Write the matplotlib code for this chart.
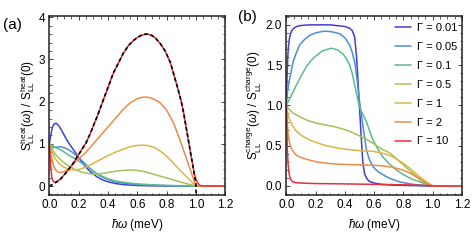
import matplotlib
matplotlib.use("Agg")
import matplotlib.pyplot as plt
from matplotlib.ticker import MultipleLocator, FormatStrFormatter

plt.rcParams['font.family'] = ['Liberation Sans', 'DejaVu Sans']
plt.rcParams['mathtext.fontset'] = 'custom'
plt.rcParams['mathtext.rm'] = 'Liberation Sans'
plt.rcParams['mathtext.it'] = 'Liberation Sans:italic'
plt.rcParams['mathtext.bf'] = 'Liberation Sans:bold'

gamma_labels = ["Γ = 0.01", "Γ = 0.05", "Γ = 0.1", "Γ = 0.5", "Γ = 1", "Γ = 2", "Γ = 10"]
colors = ["#4040d2", "#4a8fd4", "#5db98f", "#a0c45a", "#dcb548", "#f08a48", "#e8303a"]

# ---------------- panel (a): heat noise ----------------
heat_blue_x = [0, 0.01, 0.02, 0.03, 0.046, 0.065, 0.087, 0.11, 0.13, 0.15, 0.167, 0.19, 0.212, 0.24, 0.28, 0.32, 0.36, 0.4, 0.45, 0.5, 0.6, 0.7, 0.8, 1.0, 1.2]
heat_blue_y = [1.0, 1.2, 1.38, 1.46, 1.49, 1.43, 1.3, 1.15, 1.03, 0.93, 0.85, 0.73, 0.62, 0.48, 0.34, 0.23, 0.15, 0.1, 0.06, 0.035, 0.012, 0.004, 0.001, 0, 0]

heat_lblue_x = [0, 0.01, 0.025, 0.047, 0.07, 0.092, 0.115, 0.137, 0.16, 0.182, 0.205, 0.228, 0.26, 0.3, 0.35, 0.4, 0.45, 0.5, 0.6, 0.7, 0.8, 0.9, 1.0, 1.2]
heat_lblue_y = [1.0, 0.94, 0.91, 0.92, 0.93, 0.92, 0.89, 0.85, 0.79, 0.73, 0.66, 0.58, 0.47, 0.35, 0.23, 0.15, 0.1, 0.07, 0.035, 0.018, 0.008, 0.003, 0, 0]

heat_teal_x = [0, 0.02, 0.04, 0.075, 0.1, 0.137, 0.17, 0.21, 0.25, 0.3, 0.35, 0.4, 0.45, 0.5, 0.6, 0.7, 0.8, 0.9, 1.0, 1.2]
heat_teal_y = [1.0, 0.96, 0.92, 0.86, 0.81, 0.72, 0.66, 0.57, 0.47, 0.35, 0.25, 0.17, 0.12, 0.09, 0.05, 0.03, 0.015, 0.006, 0, 0]

heat_green_x = [0, 0.02, 0.047, 0.08, 0.12, 0.16, 0.21, 0.26, 0.3, 0.35, 0.4, 0.45, 0.5, 0.55, 0.6, 0.65, 0.71, 0.78, 0.85, 0.92, 1.0, 1.2]
heat_green_y = [1.0, 0.86, 0.73, 0.61, 0.5, 0.42, 0.34, 0.3, 0.28, 0.29, 0.32, 0.35, 0.37, 0.38, 0.37, 0.34, 0.28, 0.21, 0.14, 0.07, 0.0, 0]

heat_yellow_x = [0, 0.01, 0.02, 0.04, 0.07, 0.1, 0.137, 0.18, 0.22, 0.25, 0.3, 0.35, 0.4, 0.45, 0.5, 0.55, 0.6, 0.63, 0.67, 0.72, 0.78, 0.83, 0.89, 0.95, 1.0, 1.2]
heat_yellow_y = [1.0, 0.9, 0.8, 0.65, 0.52, 0.45, 0.39, 0.38, 0.41, 0.45, 0.54, 0.63, 0.72, 0.8, 0.87, 0.93, 0.96, 0.97, 0.96, 0.91, 0.77, 0.6, 0.38, 0.17, 0.0, 0]

heat_orange_x = [0, 0.01, 0.02, 0.03, 0.045, 0.06, 0.075, 0.1, 0.121, 0.15, 0.182, 0.215, 0.25, 0.3, 0.35, 0.4, 0.45, 0.5, 0.55, 0.6, 0.63, 0.66, 0.7, 0.75, 0.8, 0.85, 0.9, 0.95, 0.98, 1.0, 1.2]
heat_orange_y = [1.0, 0.78, 0.6, 0.47, 0.37, 0.33, 0.32, 0.34, 0.38, 0.46, 0.58, 0.69, 0.8, 1.0, 1.2, 1.4, 1.6, 1.8, 1.97, 2.07, 2.1, 2.11, 2.08, 1.99, 1.8, 1.47, 1.0, 0.5, 0.2, 0.0, 0]

heat_red_x = [0, 0.005, 0.01, 0.015, 0.02, 0.03, 0.04, 0.05, 0.075, 0.12, 0.167, 0.21, 0.25, 0.28, 0.33, 0.38, 0.437, 0.505, 0.54, 0.574, 0.6, 0.625, 0.65, 0.67, 0.695, 0.72, 0.756, 0.79, 0.824, 0.87, 0.9, 0.915, 0.94, 0.97, 0.99, 1.0, 1.01, 1.02, 1.03, 1.05, 1.2]
heat_red_y = [1.0, 0.72, 0.45, 0.27, 0.16, 0.1, 0.09, 0.1, 0.16, 0.34, 0.56, 0.8, 1.02, 1.25, 1.68, 2.15, 2.68, 3.15, 3.33, 3.45, 3.52, 3.57, 3.595, 3.6, 3.575, 3.52, 3.38, 3.2, 2.94, 2.39, 2.0, 1.75, 1.25, 0.65, 0.28, 0.16, 0.08, 0.035, 0.012, 0.002, 0]

heat_black_x = [0, 0.03, 0.075, 0.12, 0.167, 0.21, 0.25, 0.28, 0.33, 0.38, 0.437, 0.505, 0.54, 0.574, 0.6, 0.625, 0.65, 0.67, 0.695, 0.72, 0.756, 0.79, 0.824, 0.87, 0.9, 0.915, 0.94, 0.97, 0.99, 1.0, 1.0]
heat_black_y = [0, 0.05, 0.16, 0.34, 0.56, 0.8, 1.02, 1.25, 1.68, 2.15, 2.68, 3.15, 3.33, 3.45, 3.52, 3.57, 3.595, 3.6, 3.575, 3.52, 3.38, 3.2, 2.94, 2.39, 2.0, 1.75, 1.25, 0.65, 0.25, 0.05, -0.3]

# ---------------- panel (b): charge noise ----------------
ch_blue_x = [0, 0.005, 0.01, 0.015, 0.023, 0.035, 0.046, 0.07, 0.091, 0.15, 0.2, 0.25, 0.3, 0.35, 0.4, 0.43, 0.45, 0.467, 0.48, 0.49, 0.497, 0.505, 0.512, 0.518, 0.524, 0.535, 0.547, 0.565, 0.592, 0.65, 0.73, 0.85, 1.0, 1.2]
ch_blue_y = [1.0, 1.35, 1.6, 1.74, 1.85, 1.92, 1.95, 1.98, 1.99, 2.0, 2.0, 2.0, 2.0, 1.99, 1.98, 1.96, 1.93, 1.85, 1.6, 1.3, 1.05, 0.82, 0.6, 0.42, 0.27, 0.15, 0.1, 0.06, 0.04, 0.02, 0.01, 0.005, 0, 0]

ch_lblue_x = [0, 0.01, 0.023, 0.046, 0.07, 0.091, 0.125, 0.16, 0.2, 0.25, 0.285, 0.32, 0.364, 0.4, 0.433, 0.45, 0.467, 0.485, 0.497, 0.505, 0.515, 0.524, 0.535, 0.547, 0.565, 0.592, 0.625, 0.66, 0.7, 0.774, 0.865, 1.0, 1.2]
ch_lblue_y = [1.0, 1.2, 1.33, 1.54, 1.66, 1.75, 1.82, 1.87, 1.9, 1.92, 1.92, 1.91, 1.89, 1.84, 1.75, 1.66, 1.54, 1.3, 1.1, 0.98, 0.86, 0.74, 0.6, 0.45, 0.34, 0.24, 0.18, 0.14, 0.1, 0.05, 0.02, 0, 0]

ch_teal_x = [0, 0.023, 0.068, 0.1, 0.137, 0.17, 0.205, 0.25, 0.307, 0.35, 0.387, 0.41, 0.433, 0.45, 0.467, 0.485, 0.5, 0.52, 0.547, 0.57, 0.592, 0.625, 0.66, 0.7, 0.751, 0.8, 0.865, 0.93, 1.0, 1.2]
ch_teal_y = [1.0, 1.08, 1.25, 1.36, 1.48, 1.56, 1.62, 1.68, 1.71, 1.69, 1.64, 1.58, 1.5, 1.4, 1.25, 1.1, 0.98, 0.9, 0.8, 0.68, 0.57, 0.46, 0.36, 0.28, 0.2, 0.14, 0.08, 0.04, 0, 0]

ch_green_x = [0, 0.02, 0.05, 0.091, 0.15, 0.205, 0.26, 0.319, 0.38, 0.433, 0.49, 0.547, 0.6, 0.66, 0.708, 0.75, 0.8, 0.85, 0.89, 0.94, 1.0, 1.2]
ch_green_y = [1.0, 0.95, 0.9, 0.86, 0.81, 0.78, 0.76, 0.74, 0.71, 0.68, 0.63, 0.58, 0.52, 0.45, 0.41, 0.34, 0.26, 0.18, 0.12, 0.06, 0, 0]

ch_yellow_x = [0, 0.01, 0.023, 0.045, 0.068, 0.1, 0.16, 0.22, 0.273, 0.35, 0.433, 0.5, 0.592, 0.65, 0.706, 0.75, 0.8, 0.85, 0.9, 0.95, 1.0, 1.2]
ch_yellow_y = [1.0, 0.9, 0.82, 0.74, 0.68, 0.63, 0.57, 0.53, 0.5, 0.47, 0.45, 0.44, 0.43, 0.41, 0.38, 0.34, 0.28, 0.21, 0.13, 0.06, 0, 0]

ch_orange_x = [0, 0.005, 0.012, 0.02, 0.034, 0.05, 0.07, 0.091, 0.14, 0.205, 0.28, 0.364, 0.45, 0.547, 0.62, 0.68, 0.73, 0.774, 0.82, 0.865, 0.913, 0.96, 1.0, 1.2]
ch_orange_y = [1.0, 0.85, 0.65, 0.55, 0.47, 0.42, 0.38, 0.36, 0.33, 0.3, 0.28, 0.27, 0.265, 0.26, 0.255, 0.245, 0.23, 0.21, 0.18, 0.14, 0.08, 0.03, 0, 0]

ch_red_x = [0, 0.003, 0.007, 0.012, 0.017, 0.023, 0.03, 0.046, 0.07, 0.114, 0.2, 0.3, 0.433, 0.6, 0.8, 0.9, 0.97, 1.0, 1.2]
ch_red_y = [1.0, 0.8, 0.45, 0.28, 0.18, 0.12, 0.08, 0.05, 0.04, 0.035, 0.03, 0.028, 0.025, 0.02, 0.015, 0.01, 0.004, 0, 0]

heat_series = [(heat_blue_x, heat_blue_y), (heat_lblue_x, heat_lblue_y), (heat_teal_x, heat_teal_y),
               (heat_green_x, heat_green_y), (heat_yellow_x, heat_yellow_y), (heat_orange_x, heat_orange_y),
               (heat_red_x, heat_red_y)]
charge_series = [(ch_blue_x, ch_blue_y), (ch_lblue_x, ch_lblue_y), (ch_teal_x, ch_teal_y),
                 (ch_green_x, ch_green_y), (ch_yellow_x, ch_yellow_y), (ch_orange_x, ch_orange_y),
                 (ch_red_x, ch_red_y)]

W, H = 474, 247
fig = plt.figure(figsize=(W / 100, H / 100), dpi=100)

def px_axes(x0, x1, y0, y1):
    return fig.add_axes([x0 / W, 1 - y1 / H, (x1 - x0) / W, (y1 - y0) / H])

axa = px_axes(49.3, 225.3, 16, 195)
axb = px_axes(286.3, 462.0, 16, 195)

lw = 1.1
for (xs, ys), c, lab in zip(heat_series, colors, gamma_labels):
    axa.plot(xs, ys, color=c, lw=lw, label=lab, solid_capstyle='round')
axa.plot(heat_black_x, heat_black_y, color='black', lw=1.2, ls=(0, (2.2, 1.6)))

for (xs, ys), c, lab in zip(charge_series, colors, gamma_labels):
    axb.plot(xs, ys, color=c, lw=lw, label=lab, solid_capstyle='round')

fs = 8.5
for ax in (axa, axb):
    ax.set_xlim(0, 1.2)
    ax.xaxis.set_major_locator(MultipleLocator(0.2))
    ax.xaxis.set_minor_locator(MultipleLocator(0.05))
    ax.xaxis.set_major_formatter(FormatStrFormatter('%.1f'))
    ax.tick_params(which='both', direction='in', top=True, right=True, labelsize=fs, pad=3,
                   colors='#222222', labelcolor='black')
    ax.tick_params(which='major', length=3.2, width=0.6)
    ax.tick_params(which='minor', length=1.8, width=0.5)
    for s in ax.spines.values():
        s.set_linewidth(1.1)
        s.set_color('#222222')
    ax.set_xlabel(r"$\hbar\omega$ (meV)", fontsize=fs, labelpad=4)

axa.set_ylim(-0.213, 4.03)
axa.yaxis.set_major_locator(MultipleLocator(1))
axa.yaxis.set_minor_locator(MultipleLocator(0.2))
axa.set_ylabel(r"$\mathrm{S}_{\mathrm{LL}}^{\mathrm{heat}}(\omega)\ /\ \mathrm{S}_{\mathrm{LL}}^{\mathrm{heat}}(0)$", fontsize=fs, labelpad=1)

axb.set_ylim(-0.112, 2.11)
axb.yaxis.set_major_locator(MultipleLocator(0.5))
axb.yaxis.set_minor_locator(MultipleLocator(0.1))
axb.yaxis.set_major_formatter(FormatStrFormatter('%.1f'))
axb.set_ylabel(r"$\mathrm{S}_{\mathrm{LL}}^{\mathrm{charge}}(\omega)\ /\ \mathrm{S}_{\mathrm{LL}}^{\mathrm{charge}}(0)$", fontsize=fs, labelpad=1)

axb.legend(loc='upper left', bbox_to_anchor=(0.62, 0.96), frameon=False, fontsize=8,
           handlelength=1.45, handletextpad=0.55, labelspacing=0.8, borderpad=0, borderaxespad=0)

fig.text(12 / W, 1 - 25 / H, "(a)", fontsize=11, ha='center', va='center')
fig.text(247 / W, 1 - 17 / H, "(b)", fontsize=11, ha='center', va='center')

fig.savefig("out.png", dpi=100)
